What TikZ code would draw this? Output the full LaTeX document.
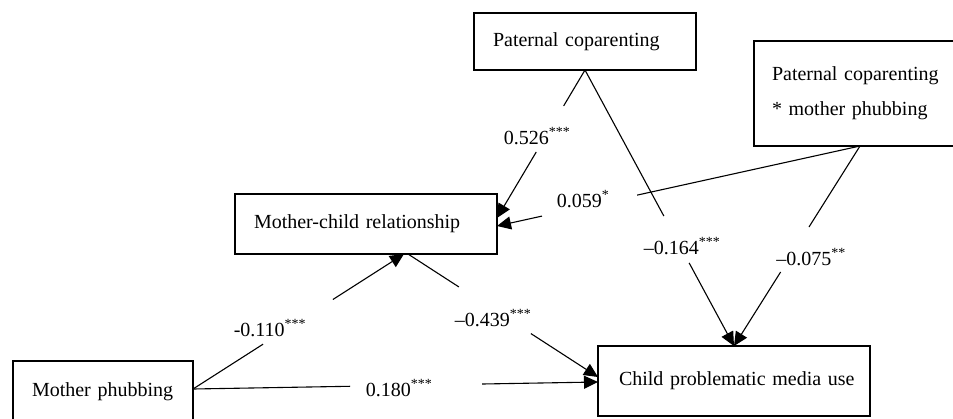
\documentclass[tikz,border=0pt]{standalone}
\usepackage{fontspec}
\setmainfont{Liberation Serif}
\usetikzlibrary{arrows.meta,calc}
\newcommand{\gapconn}[4]{%
  \draw[conn] (#1) -- ($(#1)!#3!(#2)$);
  \draw[conn,-{Triangle[length=14pt,width=13pt]}] ($(#1)!#4!(#2)$) -- (#2);}
\begin{document}
\begin{tikzpicture}[x=1pt,y=-1pt,
  box/.style={draw,line width=2.2pt,outer sep=0pt,inner xsep=0pt,inner ysep=0pt,
    align=left,anchor=north west,font=\fontsize{20}{24}\selectfont},
  conn/.style={line width=1.1pt},
  lab/.style={inner sep=0pt,font=\fontsize{20}{24}\selectfont}]
\useasboundingbox (0,0) rectangle (953,418);
\fill[white] (0,0) rectangle (953,418);
% boxes
\node[box,text width=222pt,minimum height=57pt] (pat) at (474,13) {\hspace*{19pt}Paternal coparenting};
\node[box,text width=212pt,minimum height=105pt,font=\fontsize{20}{35}\selectfont] (int) at (754,41)
  {\hspace*{18pt}Paternal coparenting\\\hspace*{18pt}* mother phubbing};
\node[box,text width=262pt,minimum height=60pt] (mcr) at (235,194) {\hspace*{19pt}Mother-child relationship};
\node[box,text width=272pt,minimum height=70pt] (cp) at (598,346) {\hspace*{21pt}Child problematic media use};
\node[box,text width=180pt,minimum height=62pt] (mp) at (13,361) {\hspace*{19pt}Mother phubbing};
% connector end points
\coordinate (mcrE1) at ([yshift=6pt]mcr.east);
\coordinate (mcrE2) at ([yshift=-2pt]mcr.east);
\coordinate (mcrS1) at ([xshift=38pt]mcr.south);
\coordinate (mcrS2) at ([xshift=42pt]mcr.south);
\coordinate (cpW1) at ([yshift=4pt]cp.west);
\coordinate (cpW2) at ([yshift=-1pt]cp.west);
\coordinate (mpE) at ([yshift=3pt]mp.east);
% connectors
\gapconn{pat.south}{mcrE1}{0.243}{0.554}
\gapconn{int.south}{mcrE2}{0.614}{0.876}
\gapconn{pat.south}{cp.north}{0.529}{0.699}
\gapconn{int.south}{cp.north}{0.405}{0.63}
\gapconn{mcrS2}{cpW1}{0.268}{0.647}
\gapconn{mpE}{mcrS1}{0.332}{0.663}
\gapconn{mpE}{cpW2}{0.388}{0.714}
% labels
\node[lab] (l526) at (537,136) {0.526\textsuperscript{***}};
\node[lab] (l059) at (583,199) {0.059\textsuperscript{*}};
\node[lab] (l164) at (682,246) {–0.164\textsuperscript{***}};
\node[lab] (l075) at (811,257) {–0.075\textsuperscript{**}};
\node[lab] (l110) at (270,328) {-0.110\textsuperscript{***}};
\node[lab] (l439) at (493,318) {–0.439\textsuperscript{***}};
\node[lab] (l180) at (399,388) {0.180\textsuperscript{***}};
\end{tikzpicture}
\end{document}
